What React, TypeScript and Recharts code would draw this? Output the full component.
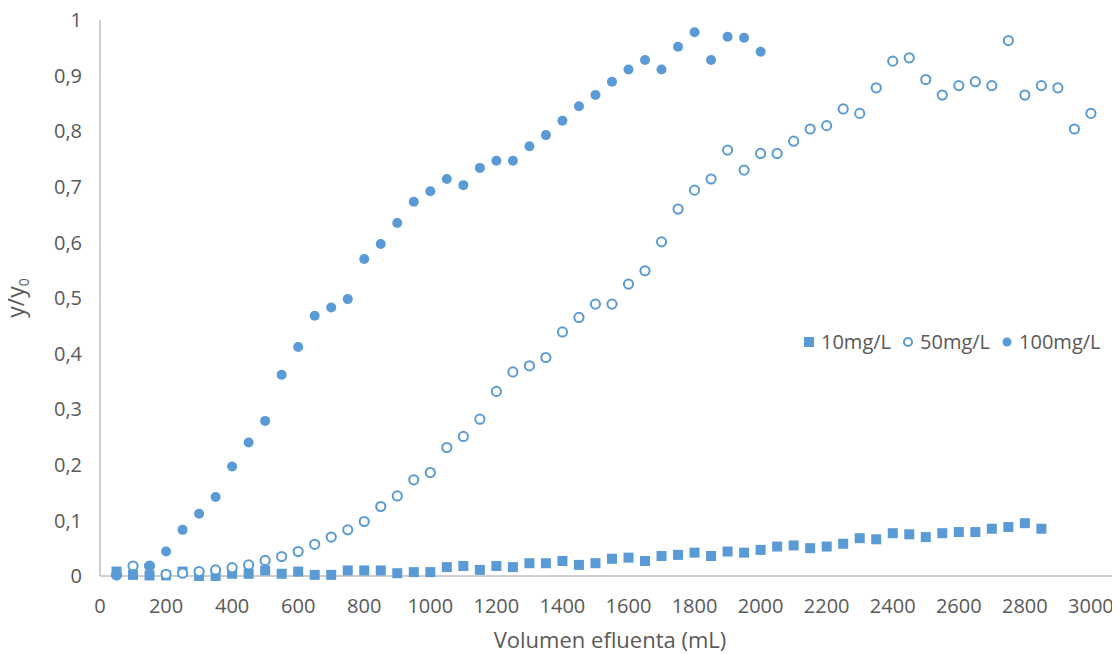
import React from 'react';
import { ScatterChart, Scatter, XAxis, YAxis, Legend, Label } from 'recharts';

const BLUE = '#5b9bd5';
const TEXT = '#595959';
const FONT = '"Open Sans", sans-serif';

// volumes (mL)
const vol10 = [
  50, 100, 150, 200, 250, 300, 350, 400, 450, 500, 550, 600, 650, 700, 750, 800, 850, 900, 950, 1000,
  1050, 1100, 1150, 1200, 1250, 1300, 1350, 1400, 1450, 1500, 1550, 1600, 1650, 1700, 1750, 1800, 1850, 1900, 1950, 2000,
  2050, 2100, 2150, 2200, 2250, 2300, 2350, 2400, 2450, 2500, 2550, 2600, 2650, 2700, 2750, 2800, 2850,
];
const vol50 = [
  50, 100, 150, 200, 250, 300, 350, 400, 450, 500, 550, 600, 650, 700, 750, 800, 850, 900, 950, 1000,
  1050, 1100, 1150, 1200, 1250, 1300, 1350, 1400, 1450, 1500, 1550, 1600, 1650, 1700, 1750, 1800, 1850, 1900, 1950, 2000,
  2050, 2100, 2150, 2200, 2250, 2300, 2350, 2400, 2450, 2500, 2550, 2600, 2650, 2700, 2750, 2800, 2850, 2900, 2950, 3000,
];
const vol100 = [
  50, 100, 150, 200, 250, 300, 350, 400, 450, 500, 550, 600, 650, 700, 750, 800, 850, 900, 950, 1000,
  1050, 1100, 1150, 1200, 1250, 1300, 1350, 1400, 1450, 1500, 1550, 1600, 1650, 1700, 1750, 1800, 1850, 1900, 1950, 2000,
];

// y/y0
const ratio10 = [
  0.008, 0.002, 0.001, 0.001, 0.008, 0.0, 0.0, 0.004, 0.004, 0.01,
  0.004, 0.008, 0.002, 0.002, 0.01, 0.01, 0.01, 0.005, 0.007, 0.007,
  0.016, 0.018, 0.011, 0.018, 0.016, 0.023, 0.023, 0.027, 0.02, 0.023,
  0.031, 0.033, 0.027, 0.036, 0.038, 0.042, 0.036, 0.044, 0.042, 0.047,
  0.053, 0.055, 0.05, 0.053, 0.058, 0.068, 0.066, 0.077, 0.075, 0.07,
  0.077, 0.079, 0.079, 0.085, 0.088, 0.095, 0.085,
];
const ratio50 = [
  0.002, 0.018, 0.018, 0.003, 0.005, 0.008, 0.011, 0.015, 0.02, 0.028,
  0.035, 0.044, 0.057, 0.07, 0.083, 0.098, 0.125, 0.144, 0.173, 0.186,
  0.231, 0.251, 0.282, 0.332, 0.367, 0.378, 0.393, 0.439, 0.465, 0.489,
  0.489, 0.525, 0.549, 0.601, 0.66, 0.694, 0.714, 0.766, 0.73, 0.76,
  0.76, 0.782, 0.804, 0.81, 0.84, 0.832, 0.878, 0.926, 0.932, 0.893,
  0.865, 0.882, 0.889, 0.882, 0.963, 0.865, 0.882, 0.878, 0.804, 0.832,
];
const ratio100 = [
  0.001, 0.003, 0.018, 0.044, 0.083, 0.112, 0.142, 0.197, 0.24, 0.279,
  0.362, 0.412, 0.468, 0.483, 0.498, 0.57, 0.597, 0.635, 0.673, 0.692,
  0.714, 0.703, 0.734, 0.747, 0.747, 0.773, 0.793, 0.819, 0.845, 0.865,
  0.889, 0.911, 0.928, 0.911, 0.952, 0.978, 0.928, 0.97, 0.968, 0.943,
];

const xTicks = [0, 200, 400, 600, 800, 1000, 1200, 1400, 1600, 1800, 2000, 2200, 2400, 2600, 2800, 3000];
const yTicks = [0, 0.1, 0.2, 0.3, 0.4, 0.5, 0.6, 0.7, 0.8, 0.9, 1];

const toPoints = (xs: number[], ys: number[]) => xs.map((x, i) => ({ x, y: ys[i] }));

const SquareDot = (props: any) => (
  <rect x={props.cx - 5} y={props.cy - 5} width={10} height={10} fill={BLUE} />
);
const OpenDot = (props: any) => (
  <circle cx={props.cx} cy={props.cy} r={4.6} fill="#fff" stroke={BLUE} strokeWidth={2} />
);
const FilledDot = (props: any) => <circle cx={props.cx} cy={props.cy} r={5} fill={BLUE} />;

const series = [
  { name: '10mg/L', data: toPoints(vol10, ratio10), shape: SquareDot, icon: 'square' },
  { name: '50mg/L', data: toPoints(vol50, ratio50), shape: OpenDot, icon: 'open' },
  { name: '100mg/L', data: toPoints(vol100, ratio100), shape: FilledDot, icon: 'filled' },
];

const LegendIcon = ({ kind }: { kind: string }) => (
  <svg width={12} height={12} style={{ marginRight: 6 }}>
    {kind === 'square' && <rect x={1} y={1} width={10} height={10} fill={BLUE} />}
    {kind === 'open' && <circle cx={6} cy={6} r={4} fill="#fff" stroke={BLUE} strokeWidth={2} />}
    {kind === 'filled' && <circle cx={6} cy={6} r={4.5} fill={BLUE} />}
  </svg>
);

const renderLegend = () => (
  <div style={{ display: 'flex', alignItems: 'center', fontFamily: FONT, fontSize: 20, color: TEXT }}>
    {series.map((s) => (
      <div key={s.name} style={{ display: 'flex', alignItems: 'center', marginRight: 11 }}>
        <LegendIcon kind={s.icon} />
        <span>{s.name}</span>
      </div>
    ))}
  </div>
);

const renderYLabel = (props: any) => {
  const vb = props.viewBox;
  const x = vb.x + 24;
  const y = vb.y + vb.height / 2;
  return (
    <text
      x={x}
      y={y}
      transform={`rotate(-90, ${x}, ${y})`}
      textAnchor="middle"
      fill={TEXT}
      fontFamily={FONT}
      fontSize={23}
    >
      y/y<tspan fontSize={14} dy={5}>0</tspan>
    </text>
  );
};

const App: React.FC = () => {
  return (
    <div style={{ width: 1120, height: 654, marginTop: -8, marginLeft: -8, background: '#fff' }}>
      <ScatterChart width={1120} height={654} margin={{ top: 20, right: 0, bottom: 0, left: 0 }}>
        <XAxis
          type="number"
          dataKey="x"
          domain={[0, 3088]}
          ticks={xTicks}
          allowDataOverflow
          stroke="#bfbfbf"
          strokeWidth={1.5}
          tickLine={false}
          tickSize={0}
          tickMargin={23}
          height={78}
          tick={{ fill: TEXT, fontSize: 20, fontFamily: FONT }}
        >
          <Label
            value="Volumen efluenta (mL)"
            position="insideBottom"
            offset={6}
            fill={TEXT}
            fontSize={22}
            fontFamily={FONT}
          />
        </XAxis>
        <YAxis
          type="number"
          dataKey="y"
          domain={[0, 1]}
          ticks={yTicks}
          width={100}
          stroke="#bfbfbf"
          strokeWidth={1.5}
          tickLine={false}
          tickSize={0}
          tickMargin={18}
          tickFormatter={(v: number) => String(v).replace('.', ',')}
          tick={{ fill: TEXT, fontSize: 20, fontFamily: FONT }}
          label={{ content: renderYLabel }}
        />
        <Legend
          layout="horizontal"
          verticalAlign="middle"
          align="center"
          content={renderLegend}
          wrapperStyle={{ position: 'absolute', left: 803, top: 328, width: 'auto' }}
        />
        {series.map((s) => (
          <Scatter
            key={s.name}
            name={s.name}
            data={s.data}
            shape={s.shape}
            fill={BLUE}
            isAnimationActive={false}
          />
        ))}
      </ScatterChart>
    </div>
  );
};

export default App;
